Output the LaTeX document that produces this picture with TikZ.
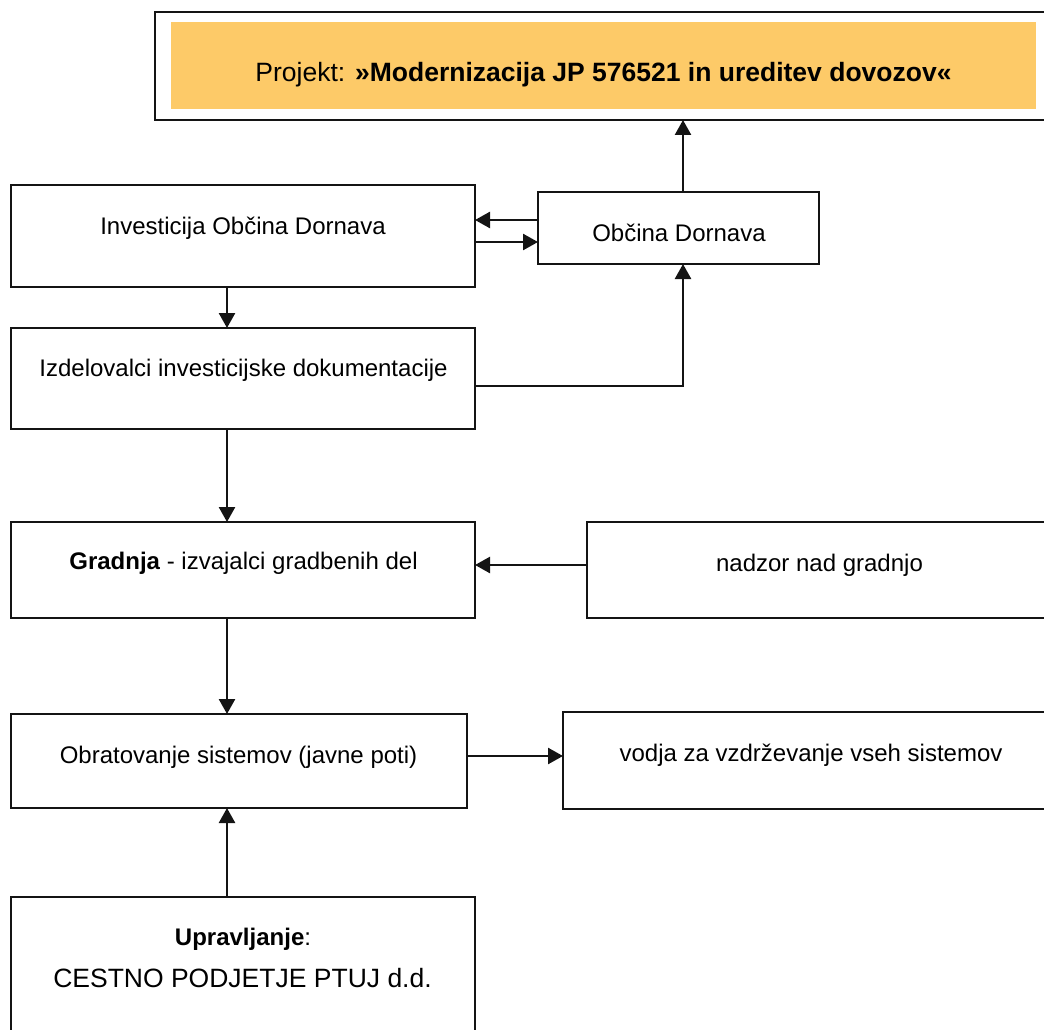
\documentclass[tikz,border=0pt]{standalone}
\usepackage{fontspec}
\setmainfont{Liberation Sans}
\usetikzlibrary{arrows.meta}
\definecolor{titlefill}{RGB}{253,202,104}
\definecolor{linecol}{RGB}{20,20,20}
\begin{document}
\begin{tikzpicture}[x=1pt,y=-1pt,
  box/.style={draw=linecol,line width=2pt,rectangle,inner sep=0pt,outer sep=0pt},
  lbl/.style={anchor=base,inner sep=0pt,font=\fontsize{24}{28}\selectfont},
  biglbl/.style={anchor=base,inner sep=0pt,font=\fontsize{26.5}{30}\selectfont},
  arr/.style={draw=linecol,line width=2.5pt,-{Triangle[length=15pt,width=16pt]}}]
\useasboundingbox (0,0) rectangle (1044,1030);
\clip (0,0) rectangle (1044,1030);
% boxes
\node[box,minimum width=905pt,minimum height=108pt] (top) at (607.5,66) {};
\node[fill=titlefill,inner sep=0pt,outer sep=0pt,minimum width=865pt,minimum height=87pt] (topfill) at (603.5,65.5) {};
\node[box,minimum width=464pt,minimum height=102pt] (inv) at (243,236) {};
\node[box,minimum width=281pt,minimum height=72pt] (obc) at (678.5,228) {};
\node[box,minimum width=464pt,minimum height=101pt] (izd) at (243,378.5) {};
\node[box,minimum width=464pt,minimum height=96pt] (gra) at (243,570) {};
\node[box,minimum width=473pt,minimum height=96pt] (nad) at (823.5,570) {};
\node[box,minimum width=456pt,minimum height=94pt] (obr) at (239,761) {};
\node[box,minimum width=497pt,minimum height=97pt] (vod) at (811.5,760.5) {};
\node[box,minimum width=464pt,minimum height=153pt] (upr) at (243,973.5) {};
% labels
\node[biglbl] (ttitle) at (603.5,82) {Projekt: \textbf{»Modernizacija JP 576521 in ureditev dovozov«}};
\node[lbl] (tinv) at (243,234) {Investicija Občina Dornava};
\node[lbl] (tobc) at (679,241) {Občina Dornava};
\node[lbl] (tizd) at (243.5,376) {Izdelovalci investicijske dokumentacije};
\node[lbl] (tgra) at (243.5,569) {\textbf{Gradnja} - izvajalci gradbenih del};
\node[lbl] (tnad) at (819.5,571) {nadzor nad gradnjo};
\node[lbl] (tobr) at (238.5,763) {Obratovanje sistemov (javne poti)};
\node[lbl] (tvod) at (811,761) {vodja za vzdrževanje vseh sistemov};
\node[lbl] (tupr) at (243,945) {\textbf{Upravljanje}:};
\node[biglbl] (tces) at (242.5,987) {CESTNO PODJETJE PTUJ d.d.};
% guide coordinates
\coordinate (colA) at (227,0);
\coordinate (colB) at (683,0);
\coordinate (r1) at (0,220);
\coordinate (r2) at (0,242);
\coordinate (r3) at (0,386);
\coordinate (r4) at (0,565);
\coordinate (r5) at (0,756);
% connectors
\draw[arr] (obc.north -| colB) -- (top.south -| colB);
\draw[arr] (obc.west |- r1) -- (inv.east |- r1);
\draw[arr] (inv.east |- r2) -- (obc.west |- r2);
\draw[arr] (inv.south -| colA) -- (izd.north -| colA);
\draw[arr] (izd.east |- r3) -| (colB |- obc.south);
\draw[arr] (izd.south -| colA) -- (gra.north -| colA);
\draw[arr] (nad.west |- r4) -- (gra.east |- r4);
\draw[arr] (gra.south -| colA) -- (obr.north -| colA);
\draw[arr] (obr.east |- r5) -- (vod.west |- r5);
\draw[arr] (upr.north -| colA) -- (obr.south -| colA);
\end{tikzpicture}
\end{document}
